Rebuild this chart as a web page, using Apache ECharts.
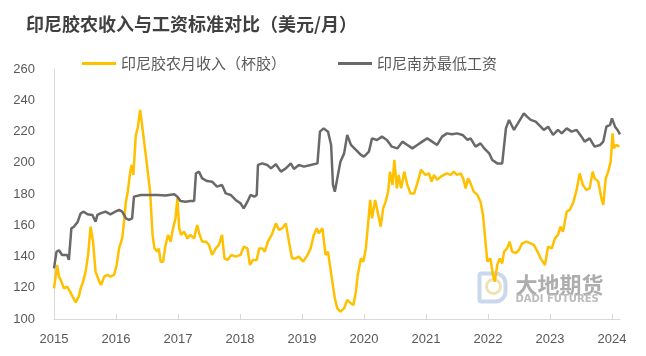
<!DOCTYPE html>
<html>
<head>
<meta charset="utf-8">
<script src="https://cdn.jsdelivr.net/npm/echarts@6/dist/echarts.min.js"></script>
<style>html,body{margin:0;padding:0;background:#fff;}#c{width:646px;height:356px;}</style>
</head>
<body>
<div id="c"></div>
<script>
const titleText = '印尼胶农收入与工资标准对比（美元/月）';
const seriesNames = ['印尼胶农月收入（杯胶）', '印尼南苏最低工资'];
const yearTicks = [2015, 2016, 2017, 2018, 2019, 2020, 2021, 2022, 2023, 2024];
const yTicks = [100, 120, 140, 160, 180, 200, 220, 240, 260];

const incomeDates = [2015.00,2015.03,2015.05,2015.08,2015.12,2015.16,2015.21,2015.26,2015.30,2015.35,2015.40,2015.43,2015.47,2015.51,2015.55,2015.59,2015.63,2015.67,2015.73,2015.76,2015.81,2015.86,2015.91,2015.97,2016.01,2016.05,2016.10,2016.13,2016.16,2016.19,2016.23,2016.25,2016.28,2016.32,2016.35,2016.39,2016.41,2016.44,2016.50,2016.55,2016.59,2016.62,2016.67,2016.69,2016.72,2016.76,2016.80,2016.84,2016.88,2016.92,2016.96,2016.99,2017.02,2017.05,2017.10,2017.15,2017.20,2017.26,2017.31,2017.35,2017.39,2017.45,2017.50,2017.55,2017.61,2017.66,2017.71,2017.75,2017.80,2017.86,2017.93,2018.01,2018.06,2018.12,2018.16,2018.21,2018.27,2018.31,2018.36,2018.40,2018.45,2018.51,2018.58,2018.63,2018.68,2018.74,2018.79,2018.84,2018.90,2018.95,2019.02,2019.09,2019.14,2019.19,2019.24,2019.27,2019.33,2019.38,2019.42,2019.45,2019.49,2019.53,2019.57,2019.62,2019.68,2019.73,2019.79,2019.83,2019.87,2019.90,2019.95,2019.99,2020.03,2020.06,2020.10,2020.13,2020.18,2020.22,2020.27,2020.31,2020.35,2020.39,2020.42,2020.46,2020.49,2020.53,2020.56,2020.60,2020.65,2020.70,2020.75,2020.81,2020.86,2020.92,2020.99,2021.05,2021.09,2021.13,2021.18,2021.24,2021.29,2021.34,2021.40,2021.45,2021.50,2021.56,2021.60,2021.64,2021.68,2021.72,2021.77,2021.83,2021.88,2021.92,2021.96,2021.99,2022.04,2022.08,2022.11,2022.15,2022.19,2022.23,2022.26,2022.31,2022.35,2022.39,2022.45,2022.50,2022.55,2022.62,2022.69,2022.74,2022.80,2022.85,2022.92,2022.97,2023.03,2023.08,2023.13,2023.17,2023.21,2023.27,2023.32,2023.38,2023.43,2023.48,2023.53,2023.59,2023.64,2023.69,2023.72,2023.78,2023.83,2023.86,2023.90,2023.94,2023.98,2024.01,2024.03,2024.07,2024.12];
const incomeValues = [119.6,128.2,134.6,127.1,123.9,119.6,120.7,117.5,114.3,110.7,114.3,119.6,123.9,130.3,141,159.1,149.5,130.3,123.9,121.8,127.1,128.2,127.1,128.2,134.6,145.2,151.6,162.3,175.1,181.5,194.3,198.6,192.2,217.8,222,233.8,234.8,217.8,198.6,181.5,153.8,145.2,143.1,145.2,136.7,136.7,147.4,153.8,149.5,158,164.4,177.2,158,153.8,155.9,151.6,153.8,151.6,160.2,153.8,149.5,149.5,147.4,141,145.2,147.4,153.8,138.8,137.8,141,139.9,141,146.3,145.2,134.6,137.8,137.8,145.2,145.2,143.1,149.5,153.8,161.2,157,158,161.2,149.5,138.8,138.8,139.9,136.7,141,145.2,153.8,158,154.9,158,141,143.1,134.6,123.9,113.3,106.8,104.7,106.8,112.2,110,109,117.5,128.2,138.8,136.7,145.2,158,176.2,164.4,176.2,168.7,159.1,170.8,175.1,181.5,194.3,185.8,201.8,183.6,192.2,183.6,194.3,185.8,180.4,180.4,186.8,195.4,192.2,193.2,187.9,192.2,189,191.1,192.2,193.2,192.2,194.3,192.2,193.2,190,183.6,190,186.8,181.5,179.4,175.1,166.6,149.5,136.7,138.8,128.2,123.9,134.6,138.8,135.6,143.1,145.2,149.5,143.1,142.1,144.2,148.4,149.5,148.4,147.4,143.1,138.8,134.6,146.3,145.2,151.6,153.8,159.1,155.9,168.7,169.8,175.1,182.6,193.2,185.8,182.6,183.6,194.3,190,187.9,177.2,173,190,194.3,200.7,218.8,209.2,211.4,210.3];

const wageDates = [2015.00,2015.04,2015.08,2015.13,2015.21,2015.24,2015.27,2015.28,2015.32,2015.38,2015.43,2015.48,2015.54,2015.62,2015.67,2015.70,2015.75,2015.83,2015.91,2015.99,2016.05,2016.10,2016.16,2016.21,2016.26,2016.29,2016.40,2016.55,2016.67,2016.80,2016.94,2016.99,2017.04,2017.12,2017.20,2017.26,2017.29,2017.34,2017.39,2017.47,2017.55,2017.63,2017.71,2017.77,2017.85,2017.93,2018.01,2018.06,2018.12,2018.17,2018.23,2018.27,2018.29,2018.36,2018.44,2018.50,2018.58,2018.66,2018.74,2018.82,2018.87,2018.95,2019.03,2019.14,2019.25,2019.29,2019.35,2019.42,2019.47,2019.50,2019.53,2019.57,2019.62,2019.68,2019.73,2019.79,2019.87,2019.95,2020.00,2020.08,2020.13,2020.21,2020.29,2020.37,2020.45,2020.54,2020.62,2020.70,2020.78,2020.86,2020.94,2021.02,2021.10,2021.18,2021.26,2021.34,2021.42,2021.50,2021.59,2021.67,2021.72,2021.80,2021.88,2021.94,2022.02,2022.07,2022.15,2022.23,2022.26,2022.29,2022.34,2022.42,2022.50,2022.58,2022.63,2022.69,2022.77,2022.85,2022.90,2022.97,2023.05,2023.13,2023.19,2023.27,2023.35,2023.43,2023.51,2023.56,2023.64,2023.72,2023.81,2023.86,2023.91,2023.97,2024.00,2024.05,2024.09,2024.13];
const wageValues = [132.4,143,144,141,141,137.8,138,158,159,162,167.6,168.7,167,166.6,162.3,166.6,167.6,168.7,167,168.7,169.8,168.7,164.4,163.4,164.4,178.3,179.4,179.4,179.4,179,179.8,178.3,175.5,175.1,175.5,175.5,193.2,194.3,190,188.3,187.9,184.7,185.8,180.4,179.4,176.2,174,170.8,175.1,179.4,178.3,179.4,198.6,199.6,198.6,196.4,199,194.3,196.4,199.6,196,198.6,197.5,198.6,199.6,219.9,222,219.9,211.4,185.8,181.5,190,200.7,206,217.8,211.4,208.2,205,203.9,207.1,215.6,214.6,216.7,214.6,210.3,209.2,213.5,211.4,209.2,211.4,213.5,215.6,213.5,211.4,216.7,218.8,218.2,218.8,217.8,214.6,215.6,210.3,212.4,209.2,206,201.8,199.6,199.6,200.7,222,227.4,221,226.3,231.6,229.5,227.4,226.3,223.1,221,223.1,217.8,221,218.8,222,219.9,221,216.7,213.5,215.6,210.3,211.4,213.5,223.1,224.2,228.4,223.1,221,218.2];

const pair = (xs, ys) => xs.map((x, i) => [x, ys[i]]);

const chart = echarts.init(document.getElementById('c'), null, {renderer: 'canvas'});
const axisGray = '#D9D9D9';
const textGray = '#595959';
const font = "'Liberation Sans', 'Noto Sans CJK SC', sans-serif";
chart.setOption({
  animation: false,
  backgroundColor: '#fff',
  title: {
    text: titleText, left: 21, top: 10,
    textStyle: {fontSize: 18, fontWeight: 'bold', color: '#404040', fontFamily: "'Noto Sans CJK SC', sans-serif"}
  },
  legend: {
    data: seriesNames, left: 82, top: 56, icon: 'rect', itemWidth: 34, itemHeight: 3, itemGap: 52, padding: 0,
    textStyle: {fontSize: 15, color: textGray, fontFamily: "'Noto Sans CJK SC', sans-serif"}
  },
  grid: {left: 54, right: 26, top: 69, bottom: 37},
  xAxis: {
    type: 'value', min: 2015, max: 2024.13,
    splitLine: {show: false},
    axisLine: {show: true, lineStyle: {color: axisGray, width: 1}},
    axisTick: {show: true, inside: true, length: 5, lineStyle: {color: axisGray}, customValues: yearTicks},
    axisLabel: {customValues: yearTicks, color: textGray, fontSize: 13, margin: 14, fontFamily: font,
      formatter: v => String(Math.round(v))}
  },
  yAxis: {
    type: 'value', min: 100, max: 260, interval: 20,
    splitLine: {show: false},
    axisLine: {show: true, lineStyle: {color: axisGray, width: 1}},
    axisTick: {show: false},
    axisLabel: {color: textGray, fontSize: 13, margin: 19, fontFamily: font}
  },
  graphic: [{
    type: 'group', left: 477, top: 271, z: 0, silent: true,
    children: [
      {type: 'rect', shape: {x: 2, y: 2, width: 26, height: 28, r: [2, 10, 10, 2]}, style: {fill: 'none', stroke: '#C9D8EC', lineWidth: 4}},
      {type: 'circle', shape: {cx: 16, cy: 15, r: 7}, style: {fill: 'none', stroke: '#EFE2B5', lineWidth: 3}},
      {type: 'text', x: 38, y: 2, style: {text: '大地期货', font: "bold 22px 'Noto Sans CJK SC', sans-serif", fill: '#ADADAD'}},
      {type: 'text', x: 38, y: 23, style: {text: 'DADI FUTURES', font: "bold 10px 'DejaVu Sans', sans-serif", fill: '#BBBBBB'}}
    ]
  }],
  series: [
    {name: seriesNames[0], type: 'line', data: pair(incomeDates, incomeValues), showSymbol: false, symbol: 'none',
      color: '#FFC000', lineStyle: {width: 2.5, color: '#FFC000'}, z: 3},
    {name: seriesNames[1], type: 'line', data: pair(wageDates, wageValues), showSymbol: false, symbol: 'none',
      color: '#6B6868', lineStyle: {width: 2.5, color: '#6B6868'}, z: 4}
  ]
});
</script>
</body>
</html>
